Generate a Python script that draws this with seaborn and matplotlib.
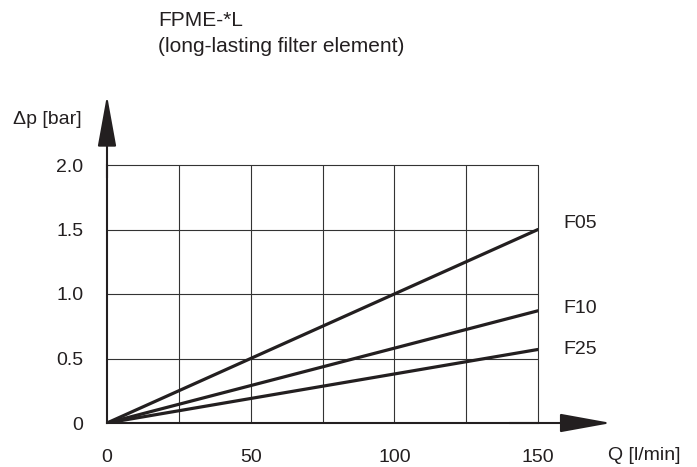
import numpy as np
import pandas as pd
import matplotlib
matplotlib.use("Agg")
import matplotlib.pyplot as plt
import seaborn as sns

# Data
flow = [0, 150]                 # Q [l/min]
dp_f05 = [0, 1.50]              # delta p [bar]
dp_f10 = [0, 0.87]
dp_f25 = [0, 0.57]
series_names = ["F05", "F10", "F25"]
label_y = [1.55, 0.89, 0.57]    # where the series names sit
x_ticks = [0, 50, 100, 150]
y_ticks = [0, 0.5, 1.0, 1.5, 2.0]
y_tick_labels = ["0", "0.5", "1.0", "1.5", "2.0"]

df = pd.DataFrame({
    "Q": flow * 3,
    "dp": dp_f05 + dp_f10 + dp_f25,
    "element": [n for n in series_names for _ in flow],
})

sns.set_style("white")
plt.rcParams["font.family"] = ["Liberation Sans", "DejaVu Sans"]

ink = "#231f20"
fs = 14
fig = plt.figure(figsize=(6.97, 4.67), dpi=100)
ax = fig.add_axes([107 / 697, 44 / 467, 431 / 697, 258 / 467])

# grid
for gx in [25, 50, 75, 100, 125, 150]:
    ax.axvline(gx, color="#333333", lw=0.8, zorder=1, clip_on=False)
for gy in [0.5, 1.0, 1.5, 2.0]:
    ax.axhline(gy, color="#333333", lw=0.8, zorder=1, clip_on=False)

sns.lineplot(data=df, x="Q", y="dp", hue="element", palette=[ink] * 3,
             linewidth=2.3, legend=False, ax=ax, zorder=3)

ax.set_xlim(0, 150)
ax.set_ylim(0, 2.0)
ax.set_xticks(x_ticks)
ax.set_yticks(y_ticks)
ax.set_yticklabels(y_tick_labels)
ax.tick_params(axis="both", length=0, labelsize=fs, colors=ink)
ax.tick_params(axis="y", pad=17)
ax.tick_params(axis="x", pad=19)
ax.set_xlabel("")
ax.set_ylabel("")
for s in ["top", "right"]:
    ax.spines[s].set_visible(False)
for s in ["left", "bottom"]:
    ax.spines[s].set_color(ink)
    ax.spines[s].set_linewidth(1.5)
    ax.spines[s].set_zorder(4)

# axis arrows
ax.annotate("", xy=(0, 2.54), xytext=(0, 1.9), annotation_clip=False,
            arrowprops=dict(arrowstyle="-|>,head_length=32,head_width=5.8",
                            mutation_scale=1, lw=1.5, color=ink, shrinkA=0, shrinkB=0))
ax.annotate("", xy=(175.5, 0), xytext=(140, 0), annotation_clip=False,
            arrowprops=dict(arrowstyle="-|>,head_length=32,head_width=5.8",
                            mutation_scale=1, lw=1.5, color=ink, shrinkA=0, shrinkB=0))

# series names
for name, ly in zip(series_names, label_y):
    ax.text(158.7, ly, name, fontsize=fs, color=ink, ha="left", va="center")

ax.text(174.4, -0.255, "Q [l/min]", fontsize=fs, color=ink, ha="left", va="center",
        clip_on=False)
fig.text(13 / 697, 1 - 120 / 467, "\u0394p [bar]", fontsize=fs, color=ink,
         ha="left", va="center")
fig.text(158 / 697, 1 - 20 / 467, "FPME-*L", fontsize=15, color=ink,
         ha="left", va="center")
fig.text(158 / 697, 1 - 46 / 467, "(long-lasting filter element)", fontsize=15,
         color=ink, ha="left", va="center")

fig.savefig("out.png", dpi=100, facecolor="white")
